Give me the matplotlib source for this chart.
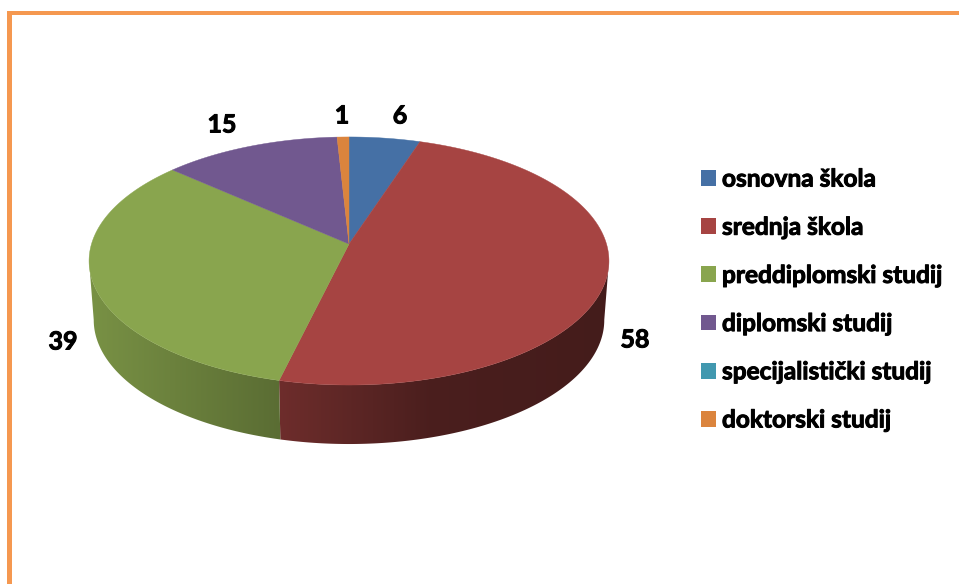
import numpy as np
import matplotlib
matplotlib.use("Agg")
import matplotlib.pyplot as plt
import matplotlib.patheffects as pe
from matplotlib.patches import Polygon, Rectangle

categories = ["osnovna škola", "srednja škola", "preddiplomski studij",
              "diplomski studij", "specijalistički studij", "doktorski studij"]
values = [6, 58, 39, 15, 0, 1]

colors = ["#4570A5", "#A64442", "#89A54E", "#71588F", "#4198AF", "#DB843D"]

# shading of the pie side, from x position in pixels
side_x = [90, 280, 430, 610]
side_dark = [0.88, 0.66, 0.45, 0.41]

plt.rcParams["font.family"] = ["Lato", "DejaVu Sans"]

fig = plt.figure(figsize=(9.59, 5.84), dpi=100)
ax = fig.add_axes([0, 0, 1, 1])

# orange frame of the slide
ax.add_patch(Rectangle((7, 11), 952, 3.5, color="#F59850", lw=0))
ax.add_patch(Rectangle((7, 11), 5, 573, color="#F59850", lw=0))


# tilted disc: circle in perspective, apex sits above the rim's middle
def rim(angle, k=0.137, rx=257.5, ry=121.7, cx=349, cy=244):
    u = np.sin(angle)
    v = np.cos(angle)
    d = 1 + k * v
    return cx + rx * u / d, cy - ry * v / d


depth = 59
shrink = 0.982
cum = np.cumsum([0] + values) / sum(values) * 2 * np.pi
grad_x = np.arange(80, 621)
grad = np.interp(grad_x, side_x, side_dark)

# only the front of the rim has a visible side, between its two extremes
sweep = np.linspace(0, 2 * np.pi, 2000)
a_right = sweep[np.argmax(rim(sweep)[0])]
a_left = sweep[np.argmin(rim(sweep)[0])]

for i in range(len(values)):
    lo = max(cum[i], a_right)
    hi = min(cum[i + 1], a_left)
    if hi <= lo:
        continue
    a = np.linspace(lo, hi, 300)
    x, y = rim(a)
    xb = 349 + (x - 349) * shrink
    yb = y + depth
    rgb = np.array(matplotlib.colors.to_rgb(colors[i]))
    img = ax.imshow((grad[:, None] * rgb)[None, :, :], aspect="auto", zorder=2,
                    extent=(80, 620, 460, 120), interpolation="bilinear")
    clip = Polygon(np.c_[np.r_[x, xb[::-1]], np.r_[y, yb[::-1]]],
                   transform=ax.transData)
    img.set_clip_path(clip)

for i in range(len(values)):
    if values[i] == 0:
        continue
    a = np.linspace(cum[i], cum[i + 1], values[i] * 8)
    x, y = rim(a)
    ax.fill(np.r_[349, x], np.r_[244, y], color=colors[i], lw=0.3, zorder=3)

ax.set_xlim(0, 959)
ax.set_ylim(584, 0)
ax.axis("off")

heavy = [pe.withStroke(linewidth=0.7, foreground="black")]

# data labels
label_x = [400, 635, 63, 222, 342]
label_y = [116, 340, 342, 125, 116]
shown = [v for v in values if v > 0]
for v, lx, ly in zip(shown, label_x, label_y):
    ax.text(lx, ly, str(v), ha="center", va="center", fontsize=18,
            fontweight="bold", color="black", zorder=4, path_effects=heavy)

handles = [Rectangle((0, 0), 1, 1, color=c, lw=0) for c in colors]
fs = 17.6
leg = ax.legend(handles, categories, loc="center left", bbox_to_anchor=(701, 299.5),
                bbox_transform=ax.transData, frameon=False, borderpad=0, borderaxespad=0,
                prop={"size": fs, "weight": "bold"},
                handlelength=10.8 / fs, handleheight=10.8 / fs,
                handletextpad=4.3 / fs, labelspacing=1.03)
for t in leg.get_texts():
    t.set_path_effects(heavy)

fig.savefig("out.png", dpi=100, facecolor="white")
